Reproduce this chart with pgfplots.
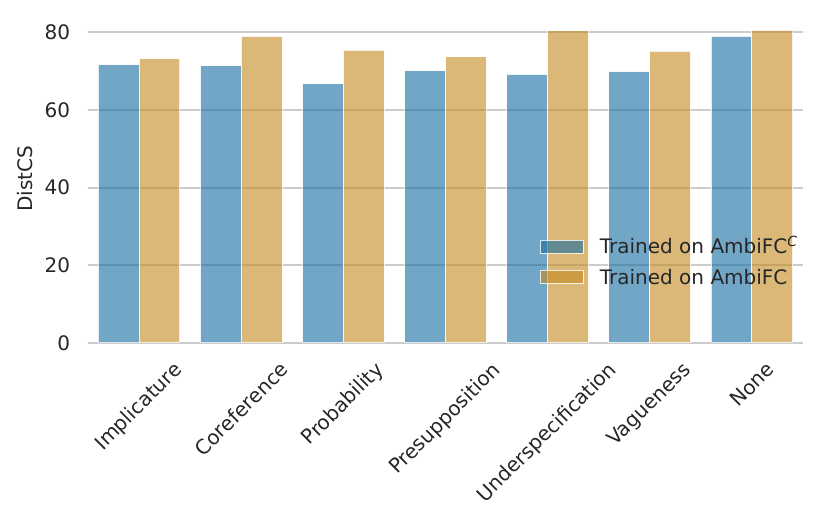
\documentclass[border=0pt]{standalone}
\usepackage{fontspec}
\setmainfont{DejaVu Sans}
\usepackage{graphicx}
\usepackage{pgfplots}
\pgfplotsset{compat=1.18}
\definecolor{cbblue}{RGB}{20,107,162}
\definecolor{cborange}{RGB}{195,137,30}
\definecolor{gridgray}{RGB}{204,204,204}
\definecolor{tc}{RGB}{38,38,38}
\begin{document}
\begin{tikzpicture}
\useasboundingbox (-44pt,-92.5pt) rectangle (371pt,171.5pt);
\begin{axis}[
  at={(0,0)}, anchor=south west,
  scale only axis, width=357.5pt, height=164.2pt,
  xmin=-0.5, xmax=6.5, ymin=0, ymax=84.5,
  enlargelimits=false,
  xtick={0,1,2,3,4,5,6}, ytick={0,20,40,60,80},
  xticklabels={\rotatebox{45}{Implicature},\rotatebox{45}{Coreference},\rotatebox{45}{Probability},\rotatebox{45}{Presupposition},\rotatebox{45}{Underspecification},\rotatebox{45}{Vagueness},\rotatebox{45}{None}},
  xticklabel style={anchor=north, inner sep=0pt, yshift=-8.5pt, text=tc},
  yticklabel style={anchor=east, inner sep=0pt, xshift=-8.7pt, text=tc},
  /pgf/number format/assume math mode=true,
  axis line style={draw=none},
  major tick length=0pt,
  ymajorgrids, grid style={gridgray, line width=1pt},
  ylabel={DistCS},
  ylabel style={at={(axis description cs:0,0.5)}, anchor=center, yshift=31.5pt, inner sep=0pt, text=tc},
  legend style={at={(axis description cs:0.632,0.317)}, anchor=north west, draw=none, fill=none, inner sep=0pt, outer sep=0pt, row sep=5.6pt, column sep=8pt, nodes={inner sep=0pt, text height=7.5pt, text depth=2pt, text=tc}},
  legend cell align=left,
  legend image code/.code={\draw[#1, draw=white, line width=0.5pt] (0pt,-2.4pt) rectangle (21.5pt,4.1pt);},
]
\addplot[ybar, bar width=0.4, bar shift=-0.2, fill=cbblue, fill opacity=0.6, draw=white, draw opacity=0.8, line width=0.5pt]
  coordinates {(0,71.65) (1,71.3) (2,66.7) (3,70.0) (4,69.1) (5,69.85) (6,78.9)};
\addlegendentry{Trained on AmbiFC\textsuperscript{\textit{C}}}
\addplot[ybar, bar width=0.4, bar shift=0.2, fill=cborange, fill opacity=0.6, draw=white, draw opacity=0.8, line width=0.5pt]
  coordinates {(0,73.2) (1,78.9) (2,75.35) (3,73.6) (4,80.4) (5,75.1) (6,80.5)};
\addlegendentry{Trained on AmbiFC}
\end{axis}
\end{tikzpicture}
\end{document}
